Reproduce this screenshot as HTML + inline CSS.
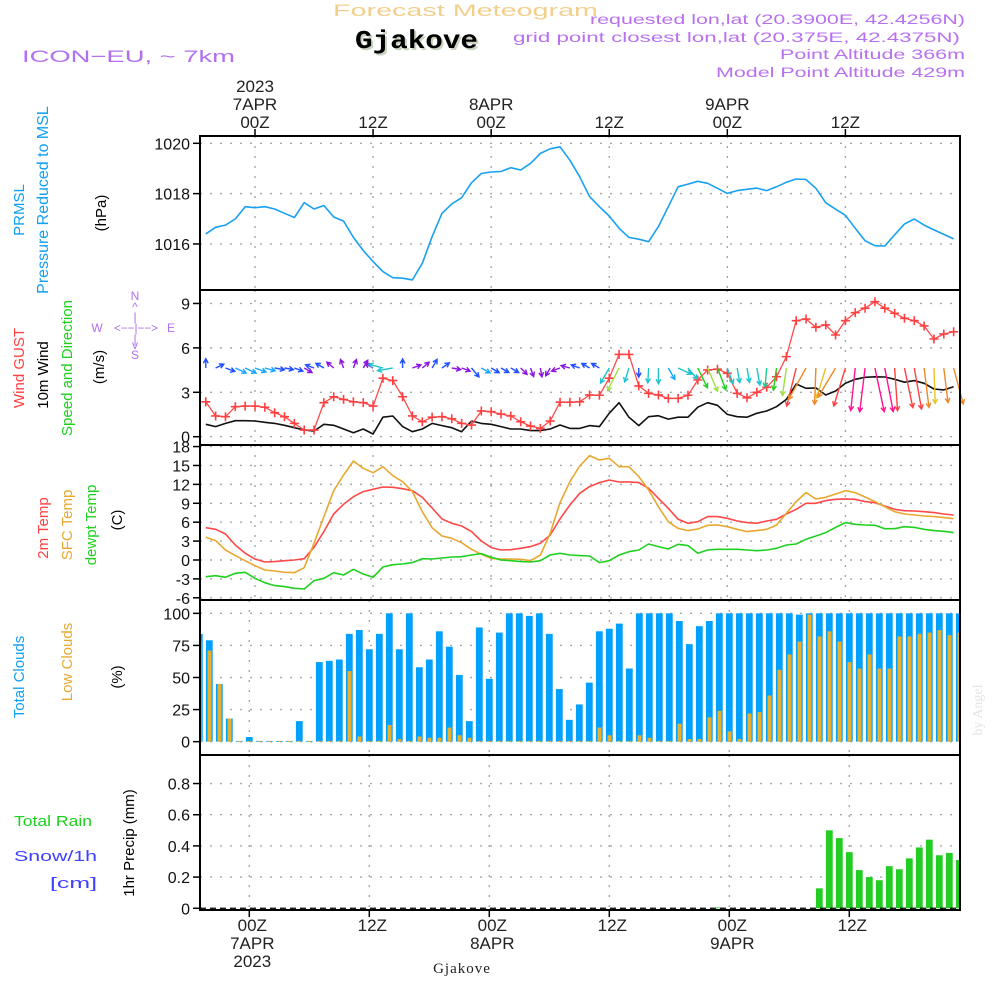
<!DOCTYPE html>
<html><head><meta charset="utf-8"><style>
html,body{margin:0;padding:0;background:#fff;}
svg{display:block;font-family:"Liberation Sans",sans-serif;}
</style></head><body>
<svg id="chart" width="1000" height="1000" viewBox="0 0 1000 1000" xmlns="http://www.w3.org/2000/svg">
<defs>
<clipPath id="clipCloud"><rect x="200" y="600" width="760" height="155"/></clipPath>
<clipPath id="clipPrecip"><rect x="200" y="755" width="760" height="155"/></clipPath>
</defs>
<g id="header">
<text x="333" y="16" font-size="17" fill="#f3cf8c" textLength="265" lengthAdjust="spacingAndGlyphs">Forecast Meteogram</text>
<text x="357" y="50" font-size="26" font-weight="bold" font-family="Liberation Mono,monospace" fill="#c8d4c0" textLength="123" lengthAdjust="spacingAndGlyphs">Gjakove</text>
<text x="355" y="48" font-size="26" font-weight="bold" font-family="Liberation Mono,monospace" fill="#000" textLength="123" lengthAdjust="spacingAndGlyphs">Gjakove</text>
<text x="22" y="62" font-size="17" fill="#b070f0" textLength="213" lengthAdjust="spacingAndGlyphs">ICON−EU, ~ 7km</text>
<text x="590" y="24" font-size="14" fill="#b870f0" textLength="375" lengthAdjust="spacingAndGlyphs">requested lon,lat (20.3900E, 42.4256N)</text>
<text x="513" y="42" font-size="14" fill="#b870f0" textLength="447" lengthAdjust="spacingAndGlyphs">grid point closest lon,lat (20.375E, 42.4375N)</text>
<text x="780" y="59" font-size="14" fill="#b870f0" textLength="185" lengthAdjust="spacingAndGlyphs">Point Altitude 366m</text>
<text x="716" y="77" font-size="14" fill="#b870f0" textLength="249" lengthAdjust="spacingAndGlyphs">Model Point Altitude 429m</text>
</g>
<g id="grid"></g>
<g id="marks"></g>
<g id="frames"></g>
<g id="labels">
<g font-size="15">
<text transform="translate(24,210) rotate(-90)" fill="#10a0f0" text-anchor="middle">PRMSL</text>
<text transform="translate(48,200) rotate(-90)" fill="#10a0f0" text-anchor="middle" font-size="16">Pressure Reduced to MSL</text>
<text transform="translate(106,213) rotate(-90)" fill="#000" text-anchor="middle">(hPa)</text>
<text transform="translate(24,368) rotate(-90)" fill="#ff4040" text-anchor="middle">Wind GUST</text>
<text transform="translate(48,375) rotate(-90)" fill="#000" text-anchor="middle">10m Wind</text>
<text transform="translate(72,368) rotate(-90)" fill="#20d020" text-anchor="middle">Speed and Direction</text>
<text transform="translate(104,367) rotate(-90)" fill="#000" text-anchor="middle">(m/s)</text>
<text transform="translate(48,528) rotate(-90)" fill="#ff4040" text-anchor="middle">2m Temp</text>
<text transform="translate(72,525) rotate(-90)" fill="#e8a830" text-anchor="middle">SFC Temp</text>
<text transform="translate(96,525) rotate(-90)" fill="#20d020" text-anchor="middle">dewpt Temp</text>
<text transform="translate(122,520) rotate(-90)" fill="#000" text-anchor="middle">(C)</text>
<text transform="translate(24,677) rotate(-90)" fill="#10a0f0" text-anchor="middle">Total Clouds</text>
<text transform="translate(72,662) rotate(-90)" fill="#e8a830" text-anchor="middle">Low Clouds</text>
<text transform="translate(122,677) rotate(-90)" fill="#000" text-anchor="middle">(%)</text>
<text x="14" y="826" fill="#20d020" textLength="78" lengthAdjust="spacingAndGlyphs">Total  Rain</text>
<text x="14" y="861" fill="#4040ff" textLength="83" lengthAdjust="spacingAndGlyphs">Snow/1h</text>
<text x="50" y="888" fill="#4040ff" textLength="47" lengthAdjust="spacingAndGlyphs">[cm]</text>
<text transform="translate(134,843) rotate(-90)" fill="#000" text-anchor="middle">1hr Precip (mm)</text>
</g>
<g font-size="12" fill="#b070f0">
<text x="135" y="300" text-anchor="middle">N</text>
<text x="135" y="311" text-anchor="middle">^</text>
<text x="135" y="321" text-anchor="middle">|</text>
<text x="97" y="332" text-anchor="middle">W</text>
<text x="136" y="332" text-anchor="middle" textLength="44" lengthAdjust="spacingAndGlyphs">&lt;−−|−−&gt;</text>
<text x="171" y="332" text-anchor="middle">E</text>
<text x="135" y="343" text-anchor="middle">|</text>
<text x="135" y="349" text-anchor="middle">v</text>
<text x="135" y="359" text-anchor="middle">S</text>
</g>
<text transform="translate(982,710) rotate(-90)" font-size="14" font-family="Liberation Serif,serif" fill="#e4e4e4" text-anchor="middle">by Angel</text>
<text x="462" y="973" font-size="15" font-family="Liberation Serif,serif" fill="#222" text-anchor="middle" letter-spacing="1">Gjakove</text>
</g>
</svg>
<script>
// ---- data (hourly, from -5h to +71h relative to 00Z 7APR 2023) ----
const pressure=[1016.40,1016.66,1016.75,1016.99,1017.48,1017.44,1017.48,1017.39,1017.22,1017.05,1017.64,1017.39,1017.53,1017.07,1016.91,1016.26,1015.74,1015.30,1014.90,1014.66,1014.64,1014.57,1015.23,1016.29,1017.22,1017.59,1017.84,1018.43,1018.80,1018.86,1018.88,1019.03,1018.94,1019.20,1019.60,1019.78,1019.86,1019.33,1018.67,1017.88,
1017.48,1017.11,1016.62,1016.26,1016.19,1016.09,1016.69,1017.48,1018.27,1018.38,1018.49,1018.41,1018.21,1018.01,1018.12,1018.17,1018.22,1018.12,1018.27,1018.45,1018.58,1018.56,1018.21,1017.64,1017.38,1017.14,1016.62,1016.13,1015.93,1015.92,1016.36,1016.79,1016.99,1016.75,1016.56,1016.38,1016.20];
const gust=[2.36,1.40,1.35,2.03,2.07,2.07,1.99,1.62,1.35,0.90,0.45,0.45,2.30,2.70,2.52,2.36,2.30,2.07,3.95,3.79,2.70,1.40,1.01,1.32,1.35,1.21,0.90,0.79,1.74,1.69,1.53,1.40,1.01,0.72,0.56,1.06,2.33,2.33,2.36,2.82,
2.8,3.95,5.56,5.56,3.43,2.93,2.82,2.59,2.59,2.8,3.83,4.51,4.56,4.28,2.93,2.63,3.0,3.34,4.05,5.41,7.84,7.95,7.39,7.55,6.87,7.84,8.38,8.68,9.12,8.68,8.34,8.0,7.84,7.48,6.60,6.94,7.09];
const wind=[0.84,0.68,0.9,1.08,1.08,1.06,0.97,0.9,0.77,0.61,0.45,0.38,0.84,0.77,0.52,0.27,0.52,0.18,1.32,1.40,0.68,0.34,0.52,0.9,0.75,0.61,0.34,1.06,0.9,0.84,0.68,0.52,0.52,0.41,0.41,0.52,0.79,0.56,0.56,0.75,
0.68,1.58,2.30,1.32,0.75,1.35,1.42,1.19,1.32,1.32,1.99,2.30,2.12,1.51,1.35,1.32,1.58,1.74,2.03,2.52,3.56,3.27,3.3,2.82,3.09,3.61,3.88,4.01,4.05,4.03,3.88,3.68,3.79,3.61,3.22,3.16,3.38];
// arrow heading on screen (deg, 0=east, 90=south)
const windDir=[-90,-25,20,25,25,20,15,10,10,20,30,-160,-150,-140,-110,-70,-60,-150,195,170,-90,-20,-40,-60,-35,10,20,50,30,30,30,30,45,70,80,120,160,-165,-160,-150,
-150,120,117,107,90,93,90,60,25,50,64,67,69,70,80,80,80,95,98,98,104,119,92,107,121,107,96,97,78,79,86,78,80,83,88,83,75];
const windColor=["B","B","B","L","L","L","L","B","B","B","P","B","B","P","P","P","P","P","C","C","B","P","P","B","B","P","P","B","L","B","B","B","P","P","P","P","P","P","B","B",
"B","C","Y","C","B","C","C","L","C","C","G","Y","G","C","C","C","C","T","G","Y","R","O","O","W","O","R","M","M","M","M","R","R","R","O","W","O","O"];
const temp2m=[5.13,4.87,4.13,2.38,1.06,0.16,-0.32,-0.26,-0.11,0,0.21,2.01,4.5,7.3,8.84,10.05,10.85,11.22,11.59,11.53,11.32,11.0,9.95,8.25,6.51,5.82,5.4,4.5,3.02,1.96,1.59,1.64,1.85,2.12,2.65,3.97,6.51,8.73,10.58,
11.64,12.28,12.7,12.38,12.4,12.28,11.38,9.79,8.2,6.46,5.82,6.08,6.88,6.88,6.61,6.19,5.93,5.82,6.19,6.46,7.3,8.04,9.0,9.0,9.42,9.63,9.7,9.63,9.26,9.1,8.57,8.04,7.83,7.78,7.67,7.52,7.3,7.14];
const tempSfc=[3.6,3.07,1.59,0.69,-0.11,-0.9,-1.59,-1.75,-1.96,-2.0,-1.22,2.65,6.88,11.0,13.49,15.71,14.55,13.86,14.81,13.38,12.43,10.85,7.67,5.13,3.81,3.44,2.75,1.69,0.9,0.26,0.16,0.16,0.11,-0.11,0.79,4.23,9.1,12.43,14.92,
16.56,15.87,16.14,14.81,14.81,13.23,11.11,8.46,6.08,5.02,4.66,4.92,5.5,5.55,5.29,4.87,4.5,4.66,4.87,5.55,7.41,9.26,10.69,9.68,9.95,10.48,11.0,10.69,10.0,9.26,8.46,7.67,7.3,7.14,6.98,6.88,6.72,6.56];
const dewpt=[-2.65,-2.49,-2.75,-2.12,-1.96,-2.91,-3.6,-4.07,-4.23,-4.5,-4.6,-3.28,-2.91,-2.01,-2.38,-1.48,-2.22,-2.75,-1.11,-0.74,-0.63,-0.42,0.21,0.16,0.32,0.48,0.53,0.79,1.01,0.42,0,-0.11,-0.26,-0.32,-0.11,0.79,1.06,0.79,0.69,
0.63,-0.42,-0.11,0.79,1.32,1.59,2.54,2.12,1.75,2.49,2.28,1.06,1.59,1.69,1.69,1.69,1.59,1.48,1.59,1.85,2.38,2.54,3.28,3.81,4.34,5.18,5.93,5.66,5.55,5.5,4.97,4.97,5.29,5.18,4.87,4.66,4.55,4.34];
const totalClouds=[84,79,45,18,0.5,3.6,0.5,0.5,0.5,0.5,16,0.5,62,63,64,84,87,72,84,100,72,100,58,64,86,74,52,16,89,49,85,100,100,98,100,84,41,17,29,
46,86,88,92,57,100,100,100,100,94,76,90,94,100,100,100,100,100,100,100,100,99,100,100,100,100,100,100,100,100,100,100,100,100,100,100,100,100];
const lowClouds=[78,71,45,18,0,0,0,0,0,0,0,0,0,0,0,55,4,0,0,13,2,0,4,3,3,11,5,3,0,0,0,0,0,0,0,0,0,0,0,
0,11,5,0,0,5,3,0,0,14,2,2,19,24,8,2,22,23,36,56,68,78,99,82,86,78,62,57,68,57,57,82,82,84,85,87,83,85];
const precip=[0,0,0,0,0,0,0,0,0,0,0,0,0,0,0,0,0,0,0,0,0,0,0,0,0,0,0,0,0,0,0,0,0,0,0,0,0,0,0,0,0,0,0,0,0,0,0,0,0,0,0,0,0.005,0,0,0,0,0,0,0,0,0,
0.128,0.50,0.45,0.36,0.245,0.20,0.18,0.27,0.25,0.32,0.39,0.44,0.34,0.355,0.31];
const pressTicks=[1016,1018,1020];
const windTicks=[0,3,6,9];
const tempTicks=[-6,-3,0,3,6,9,12,15,18];
const cloudTicks=[0,25,50,75,100];
const precipTicks=[0,0.2,0.4,0.6,0.8];
const timeTicks=[0,12,24,36,48,60];
const topLabels=[["2023","7APR","00Z"],["","","12Z"],["","8APR","00Z"],["","","12Z"],["","9APR","00Z"],["","","12Z"]];
const bottomLabels=[["00Z","7APR","2023"],["12Z","",""],["00Z","8APR",""],["12Z","",""],["00Z","9APR",""],["12Z","",""]];
const startHour=-5;

const NS="http://www.w3.org/2000/svg";
const L=200,R=960;
const palette={B:"#2050ff",L:"#14a8ff",P:"#8a14e0",C:"#20c4cc",G:"#20d020",T:"#20c890",Y:"#a0e040",O:"#f08828",W:"#e8c428",R:"#ff4040",M:"#ff1490"};
function lineX(h){return 255+9.84*h;}
function barX(h){return 249.3+10*h;}
function scaleY(top,bot,vTop,vBot){return v=>top+(vTop-v)/(vTop-vBot)*(bot-top);}
const panels={
 press:{top:136,bot:290,y:scaleY(136,290,1020.29,1014.17)},
 wind:{top:290,bot:445,y:scaleY(290,445,9.91,-0.56)},
 temp:{top:445,bot:600,y:scaleY(445,600,18.25,-6.35)},
 cloud:{top:600,bot:755,y:scaleY(600,755,110.4,-10.4)},
 precip:{top:755,bot:910,y:scaleY(755,910,0.983,-0.011)}
};
function mk(tag,attrs,parent){const e=document.createElementNS(NS,tag);for(const k in attrs)e.setAttribute(k,attrs[k]);parent.appendChild(e);return e;}
const grid=document.getElementById('grid'),marks=document.getElementById('marks'),frames=document.getElementById('frames'),labels=document.getElementById('labels');
const cloudG=mk('g',{'clip-path':'url(#clipCloud)'},marks);


const precipG=mk('g',{'clip-path':'url(#clipPrecip)'},marks);



function hgrid(p,ticks,fmt,name){
 ticks.forEach(t=>{const y=p.y(t);
  const g=mk('line',{x1:L,x2:R,y1:y,y2:y,stroke:'#a8a8a8','stroke-width':1.4,'stroke-dasharray':'2 8'},grid);
  
  
  const tk=mk('line',{x1:L-7,x2:L,y1:y,y2:y,stroke:'#000','stroke-width':1.5},frames);
  
  
  const tx=mk('text',{x:L-10,y:y+6,'font-size':16,'text-anchor':'end',fill:'#111'},labels);
  tx.textContent=fmt(t);
  
  
 });
}
function vgrid(p,xf){
 timeTicks.forEach(h=>{const x=xf(h);
  const g=mk('line',{x1:x,x2:x,y1:p.top,y2:p.bot,stroke:'#a8a8a8','stroke-width':1.4,'stroke-dasharray':'2 8'},grid);
  
  
 });
}
vgrid(panels.press,lineX);vgrid(panels.wind,lineX);vgrid(panels.temp,lineX);vgrid(panels.cloud,barX);vgrid(panels.precip,barX);
hgrid(panels.press,pressTicks,t=>String(t),'pressure');
hgrid(panels.wind,windTicks,t=>String(t),'wind');
hgrid(panels.temp,tempTicks,t=>String(t),'temp');
hgrid(panels.cloud,cloudTicks,t=>String(t),'cloud');
hgrid(panels.precip,precipTicks,t=>t===0?'0':t.toFixed(1),'precip');

function polyline(arr,p,xf,color,name,w){
 const pts=arr.map((v,i)=>xf(startHour+i).toFixed(1)+','+p.y(v).toFixed(1)).join(' ');
 const e=mk('polyline',{points:pts,fill:'none',stroke:color,'stroke-width':w||1.6,'stroke-linejoin':'round'},marks);
 
 
}
polyline(pressure,panels.press,lineX,'#18a0f2','pressure-line');
polyline(wind,panels.wind,lineX,'#111','wind-speed-line');
polyline(gust,panels.wind,lineX,'#ff4a4a','wind-gust-line',1.3);
gust.forEach((v,i)=>{const x=lineX(startHour+i),y=panels.wind.y(v);
 const e=mk('path',{d:`M${x-4.5},${y}H${x+4.5}M${x},${y-4.5}V${y+4.5}`,stroke:'#ff4040','stroke-width':1.6},marks);
 
 
});
wind.forEach((v,i)=>{const x=lineX(startHour+i),y=368;
 const len=Math.max(9,11*v),a=windDir[i]*Math.PI/180;
 const tx=x+len*Math.cos(a),ty=y+len*Math.sin(a);
 const h1=a+Math.PI-0.5,h2=a+Math.PI+0.5,hl=5;
 const c=palette[windColor[i]];
 const e=mk('path',{d:`M${x},${y}L${tx},${ty}M${tx+hl*Math.cos(h1)},${ty+hl*Math.sin(h1)}L${tx},${ty}L${tx+hl*Math.cos(h2)},${ty+hl*Math.sin(h2)}`,stroke:c,'stroke-width':1.4,fill:'none'},marks);
 
 
});
polyline(temp2m,panels.temp,lineX,'#ff4848','temp-2m-line');
polyline(tempSfc,panels.temp,lineX,'#e8a830','temp-sfc-line');
polyline(dewpt,panels.temp,lineX,'#20d020','dewpoint-line');

const cp=panels.cloud,z=cp.y(0);
totalClouds.forEach((v,i)=>{const x=barX(startHour+i),y=cp.y(v);
 const e=mk('rect',{x:x-3.4,y:y,width:6.8,height:Math.max(0.8,z-y),fill:'#00a0ff'},cloudG);
 
 
});
lowClouds.forEach((v,i)=>{const x=barX(startHour+i),y=cp.y(v);
 const e=mk('rect',{x:x-1.8,y:Math.min(y,z-0.8),width:4,height:Math.max(0.8,z-y),fill:'#e8b030'},cloudG);
 
 
});
const pp=panels.precip,pz=pp.y(0);
precip.forEach((v,i)=>{if(v<=0)return;const x=barX(startHour+i),y=pp.y(v);
 const e=mk('rect',{x:x-3.4,y:y,width:6.8,height:pz-y,fill:'#22cc22'},precipG);
 
 
});
const zl=mk('line',{x1:L,x2:R,y1:pz,y2:pz,stroke:'#000','stroke-width':1.2,'stroke-dasharray':'6 4'},marks);



Object.keys(panels).forEach(k=>{const p=panels[k];
 const e=mk('rect',{x:L,y:p.top,width:R-L,height:p.bot-p.top,fill:'none',stroke:'#000','stroke-width':2},frames);
 
 
});
timeTicks.forEach((h,i)=>{const x=lineX(h),xb=barX(h);
 const t=mk('line',{x1:x,x2:x,y1:129,y2:136,stroke:'#000','stroke-width':1.5},frames);
 
 
 const b=mk('line',{x1:xb,x2:xb,y1:910,y2:917,stroke:'#000','stroke-width':1.5},frames);
 
 
 [92,110,128].forEach((yy,j)=>{if(!topLabels[i][j])return;
  const e=mk('text',{x:x,y:yy,'font-size':17,'text-anchor':'middle',fill:'#222'},labels);
  e.textContent=topLabels[i][j];
  
  
 });
 [931,949,967].forEach((yy,j)=>{if(!bottomLabels[i][j])return;
  const e=mk('text',{x:xb+3,y:yy,'font-size':17,'text-anchor':'middle',fill:'#222'},labels);
  e.textContent=bottomLabels[i][j];
  
  
 });
});
</script>
</body></html>
